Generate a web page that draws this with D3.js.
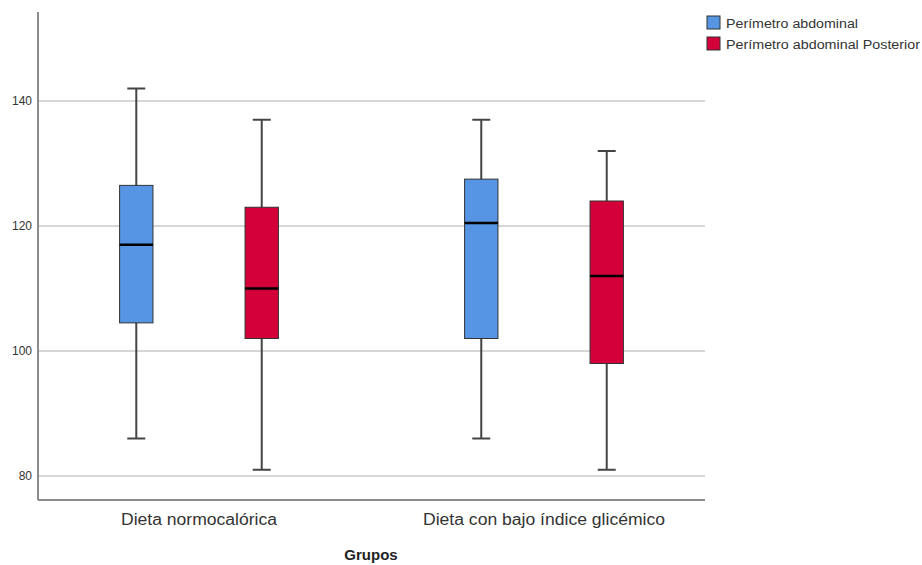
<!DOCTYPE html>
<html>
<head>
<meta charset="utf-8">
<script src="https://cdn.jsdelivr.net/npm/d3@7"></script>
<style>
  body { margin: 0; background: #fff; }
  text { font-family: "Liberation Sans", Arial, sans-serif; fill: #222; }
</style>
</head>
<body>
<div class="chart"></div>
<script>
// data
const groups = ['Dieta normocalórica', 'Dieta con bajo índice glicémico'];
const series = ['Perímetro abdominal', 'Perímetro abdominal Posterior'];
const seriesColors = ['#5595e4', '#d3003a'];
// per group: [series0, series1], each [min, q1, median, q3, max]
const normocaloricaBoxes = [[86, 104.5, 117, 126.5, 142], [81, 102, 110, 123, 137]];
const bajoIndiceBoxes = [[86, 102, 120.5, 127.5, 137], [81, 98, 112, 124, 132]];
const yTicks = [80, 100, 120, 140];

const boxData = [];
[normocaloricaBoxes, bajoIndiceBoxes].forEach((g, gi) => {
  g.forEach((b, si) => {
    boxData.push({group: groups[gi], series: series[si], si,
      min: b[0], q1: b[1], median: b[2], q3: b[3], max: b[4]});
  });
});

const W = 922, H = 565;
const plot = {left: 38, right: 705, top: 12, bottom: 500};

const svg = d3.select('.chart')
  .append('svg')
  .attr('width', W)
  .attr('height', H);

const yScale = d3.scaleLinear()
  .domain([80 - 24 / 6.25, 140 + 89 / 6.25])
  .range([plot.bottom, plot.top]);

const xScale = d3.scaleBand()
  .domain(groups)
  .range([plot.left, plot.right])
  .paddingInner(0.2)
  .paddingOuter(0.0667);

const xSub = d3.scaleBand()
  .domain(series)
  .range([0, xScale.bandwidth()])
  .paddingInner(0.3)
  .paddingOuter(0.25);

// gridlines
svg.append('g')
  .selectAll('line')
  .data(yTicks)
  .join('line')
  .attr('x1', plot.left)
  .attr('x2', plot.right)
  .attr('y1', d => yScale(d))
  .attr('y2', d => yScale(d))
  .style('stroke', '#d6d6d6')
  .style('stroke-width', 2);

// y axis
const yAxis = svg.append('g')
  .attr('transform', `translate(${plot.left},0)`)
  .call(d3.axisLeft(yScale).tickValues(yTicks).tickSize(0).tickPadding(6));
yAxis.select('.domain').remove();
yAxis.selectAll('text')
  .style('font-size', '12px')
  .style('font-family', '"Liberation Sans", Arial, sans-serif')
  .style('fill', '#333');

// axis lines
svg.append('line')
  .attr('x1', plot.left).attr('x2', plot.left)
  .attr('y1', plot.top).attr('y2', plot.bottom)
  .style('stroke', '#8c8c8c').style('stroke-width', 2);
svg.append('line')
  .attr('x1', plot.left).attr('x2', plot.right)
  .attr('y1', plot.bottom).attr('y2', plot.bottom)
  .style('stroke', '#8c8c8c').style('stroke-width', 2);

// x axis labels
const labelLen = {'Dieta normocalórica': 156, 'Dieta con bajo índice glicémico': 242};
const xAxis = svg.append('g')
  .attr('transform', `translate(0,${plot.bottom})`)
  .call(d3.axisBottom(xScale).tickSize(0).tickPadding(14));
xAxis.select('.domain').remove();
xAxis.selectAll('text')
  .attr('textLength', d => labelLen[d])
  .attr('lengthAdjust', 'spacingAndGlyphs')
  .style('font-size', '16px')
  .style('font-family', '"Liberation Sans", Arial, sans-serif')
  .style('fill', '#333');

svg.append('text')
  .attr('x', 371)
  .attr('y', 560)
  .attr('text-anchor', 'middle')
  .style('font-size', '15px')
  .style('font-weight', 'bold')
  .text('Grupos');

// boxes
const slotW = xSub.bandwidth();
const boxW = slotW * 0.38;
const capW = 18;
const boxes = svg.append('g')
  .selectAll('g')
  .data(boxData)
  .join('g')
  .attr('transform', d => `translate(${xScale(d.group) + xSub(d.series) + slotW / 2},0)`);

boxes.append('line')
  .attr('x1', 0).attr('x2', 0)
  .attr('y1', d => yScale(d.max)).attr('y2', d => yScale(d.min))
  .style('stroke', '#444').style('stroke-width', 2);
boxes.append('line')
  .attr('x1', -capW / 2).attr('x2', capW / 2)
  .attr('y1', d => yScale(d.max)).attr('y2', d => yScale(d.max))
  .style('stroke', '#444').style('stroke-width', 2);
boxes.append('line')
  .attr('x1', -capW / 2).attr('x2', capW / 2)
  .attr('y1', d => yScale(d.min)).attr('y2', d => yScale(d.min))
  .style('stroke', '#444').style('stroke-width', 2);
boxes.append('rect')
  .attr('x', -boxW / 2)
  .attr('width', boxW)
  .attr('y', d => yScale(d.q3))
  .attr('height', d => yScale(d.q1) - yScale(d.q3))
  .style('fill', d => seriesColors[d.si])
  .style('stroke', '#333')
  .style('stroke-width', 1);
boxes.append('line')
  .attr('x1', -boxW / 2).attr('x2', boxW / 2)
  .attr('y1', d => yScale(d.median)).attr('y2', d => yScale(d.median))
  .style('stroke', '#000').style('stroke-width', 2.5);

// legend
const legendLen = [132, 194];
const legend = svg.append('g')
  .selectAll('g')
  .data(series)
  .join('g')
  .attr('transform', (d, i) => `translate(707,${16 + i * 21})`);
legend.append('rect')
  .attr('width', 13).attr('height', 13)
  .style('fill', (d, i) => seriesColors[i])
  .style('stroke', '#333')
  .style('stroke-width', 1);
legend.append('text')
  .attr('x', 19)
  .attr('y', 12)
  .attr('textLength', (d, i) => legendLen[i])
  .attr('lengthAdjust', 'spacingAndGlyphs')
  .style('font-size', '12px')
  .style('fill', '#333')
  .text(d => d);
</script>
</body>
</html>
